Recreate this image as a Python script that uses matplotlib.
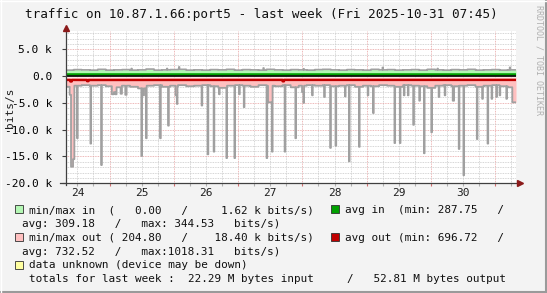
import matplotlib
matplotlib.use("Agg")
import matplotlib.pyplot as plt
from matplotlib.patches import Rectangle
from matplotlib.lines import Line2D
from matplotlib.ticker import MultipleLocator
import numpy as np

# ----- DATA -----
t_start = 24 + 7.75 / 24          # Fri 2025-10-24 07:45
t_end = t_start + 7
step = 1 / 96                      # 15 min

day_labels = ["24", "25", "26", "27", "28", "29", "30"]
ytick_vals = [5000, 0, -5000, -10000, -15000, -20000]
ytick_labels = ["5.0 k", "0.0", "-5.0 k", "-10.0 k", "-15.0 k", "-20.0 k"]

# max in, 3 h blocks (bits/s)
in_max_base = [1100, 1200, 1150, 1100, 1250, 1100, 1150, 1200, 1100, 1150, 1300, 1100, 1150, 1200,
               1250, 1100, 1150, 1100, 1200, 1150, 1250, 1100, 1200, 1150, 1100, 1250, 1150, 1100,
               1200, 1150, 1100, 1200, 1250, 1150, 1100, 1200, 1150, 1100, 1250, 1150, 1200, 1100,
               1150, 1200, 1100, 1250, 1150, 1100, 1200, 1150, 1250, 1100, 1150, 1200, 1100, 1150]
in_max_peak_t = [25.34, 25.90, 26.08, 27.40, 28.02, 29.25, 30.10, 31.23]
in_max_peak_v = [1400, 1400, 1700, 1500, 1350, 1600, 1400, 1620]

# max out (negative), 3 h blocks
out_base = [-2000, -1800, -1700, -1800, -1700, -1900, -2100, -1800, -2000, -2300, -1800, -1700, -2000, -1800,
            -1700, -1900, -1800, -1700, -1900, -2200, -1800, -1700, -1800, -2000, -1700, -1800, -1900, -1700,
            -2100, -1800, -1700, -1800, -1700, -1900, -1800, -1700, -2000, -1800, -1900, -1700, -1800, -2000,
            -1700, -1800, -1900, -2200, -1800, -1700, -1900, -1800, -1700, -2000, -1800, -1700, -1900, -2100]
# dips shown in the pink area
out_pink_t = [24.385, 24.396, 24.406, 24.417, 24.427, 24.438, 24.448, 25.044, 25.055, 25.065, 25.076,
              25.086, 25.097, 25.108, 25.173, 25.183, 25.251, 25.261, 25.521, 25.531, 25.795, 25.914,
              26.033, 26.044, 26.054, 26.531, 27.096, 27.464, 27.475, 27.485, 27.496, 27.506, 27.517,
              27.532, 28.003, 28.013, 28.024, 29.103, 30.347, 30.357, 30.720, 31.269, 31.279, 31.290,
              31.300, 31.311, 31.321]
out_pink_v = [-3500, -3500, -16900, -16900, -16900, -15500, -15500, -3400, -3400, -3400, -3000,
              -3000, -3400, -3400, -3300, -3300, -3500, -3500, -3600, -3600, -11600, -9250,
              -3600, -3600, -3600, -14600, -5800, -4900, -4900, -4900, -4900, -4900, -4900,
              -14100, -3000, -3000, -5000, -6900, -4600, -4600, -11750, -4900, -4900, -4900,
              -4900, -4900, -4900]
# spikes drawn only by the grey line
out_line_t = [24.499, 24.707, 24.878, 25.500, 25.578, 26.054, 26.433, 26.620, 26.713, 26.822, 26.946,
              27.024, 27.444, 27.734, 27.895, 28.154, 28.346, 28.439, 28.517, 28.662, 28.724, 28.890,
              29.020, 29.434, 29.517, 29.580, 29.642, 29.725, 29.828, 29.891, 30.015, 30.124, 30.217,
              30.435, 30.513, 30.803, 30.886, 30.953, 31.016, 31.078, 31.176]
out_line_v = [-11600, -12600, -16600, -14900, -11600, -5200, -5500, -14100, -3400, -15300, -15300,
              -3400, -15300, -14100, -11600, -3600, -3900, -13400, -13000, -3800, -15900, -13200,
              -3600, -12500, -12500, -3600, -3600, -9100, -4600, -14400, -10500, -3900, -3600,
              -13600, -18500, -4250, -12600, -4250, -3900, -3600, -4250]
out_min = -204.80

# averages, 6 h blocks
avg_in = [310, 305, 300, 315, 320, 305, 295, 310, 300, 315, 310, 305, 320, 300,
          310, 305, 315, 300, 310, 320, 305, 300, 310, 315, 305, 300, 310, 305]
avg_out = [-730, -740, -720, -735, -730, -725, -740, -730, -735, -720, -730, -745, -730, -725,
           -735, -730, -720, -740, -730, -735, -725, -730, -740, -730, -720, -735, -730, -725]
avg_out_peak_t = [24.396, 24.406, 24.655, 24.665, 27.70, 27.71]
avg_out_peak_v = [-1018, -1018, -960, -960, -990, -990]

legend_rows = [
    ("#B4F7B4", "min/max in  (   0.00   /     1.62 k bits/s)", "#00A000", "avg in  (min: 287.75   /"),
    (None, "avg: 309.18   /   max: 344.53   bits/s)", None, None),
    ("#FFC0C0", "min/max out ( 204.80   /    18.40 k bits/s)", "#C00000", "avg out (min: 696.72   /"),
    (None, "avg: 732.52   /   max:1018.31   bits/s)", None, None),
    ("#FFFFA0", "data unknown (device may be down)", None, None),
    (None, "totals for last week :  22.29 M bytes input     /   52.81 M bytes output", None, None),
]

# ----- BUILD SERIES -----
t = t_start + np.arange(673) * step
blk3 = np.clip(((t - t_start) * 8).astype(int), 0, 55)
blk6 = np.clip(((t - t_start) * 4).astype(int), 0, 27)

def idx(tt):
    return min(int(round((tt - t_start) / step)), len(t) - 1)

in_max = np.array(in_max_base, dtype=float)[blk3]
for tt, v in zip(in_max_peak_t, in_max_peak_v):
    in_max[idx(tt)] = v

out_fill = np.array(out_base, dtype=float)[blk3]
for tt, v in zip(out_pink_t, out_pink_v):
    out_fill[idx(tt)] = min(out_fill[idx(tt)], v)
out_line = out_fill.copy()
for tt, v in zip(out_line_t, out_line_v):
    out_line[idx(tt)] = min(out_line[idx(tt)], v)

avg_in_s = np.array(avg_in, dtype=float)[blk6]
avg_out_s = np.array(avg_out, dtype=float)[blk6]
for tt, v in zip(avg_out_peak_t, avg_out_peak_v):
    avg_out_s[idx(tt)] = v

# ----- FIGURE -----
W, H = 547, 293
mono = "DejaVu Sans Mono"
plt.rcParams["font.family"] = mono

fig = plt.figure(figsize=(W / 100, H / 100), dpi=100, facecolor="#F3F3F3")

def fx(px):
    return px / W

def fy(py):
    return 1 - py / H

left, right, top, bottom = 66, 516, 31, 183.3
ax = fig.add_axes([fx(left), fy(bottom), fx(right - left), (bottom - top) / H])
ax.set_facecolor("white")
ax.set_xlim(t_start, t_end)
ax.set_ylim(-20000, 8400)

# grid
ax.xaxis.set_major_locator(MultipleLocator(1))
ax.xaxis.set_minor_locator(MultipleLocator(0.25))
ax.yaxis.set_minor_locator(MultipleLocator(1000))
ax.set_yticks(ytick_vals, ytick_labels)
ax.set_xticklabels([])
ax.grid(which="minor", color="#C8C8C8", linestyle=(0, (1, 1)), linewidth=0.6, zorder=0)
ax.grid(which="major", color="#E8A0A0", linestyle=(0, (1, 1)), linewidth=0.6, zorder=0)
ax.set_axisbelow(True)
for s in ax.spines.values():
    s.set_visible(False)
ax.tick_params(axis="y", which="major", length=3, width=0.8, color="#404040", pad=7, labelsize=8)
ax.tick_params(axis="y", which="minor", length=0)
ax.tick_params(axis="x", which="major", length=2, width=0.8, color="#D07070", direction="out")
ax.tick_params(axis="x", which="minor", length=2, width=0.8, color="#B0B0B0", direction="out")

# series
ax.fill_between(t, 0, in_max, step="mid", color="#B4F7B4", linewidth=0, zorder=2)
ax.plot(t, in_max, drawstyle="steps-mid", color="#A0A0A0", linewidth=1.2, zorder=3)
ax.fill_between(t, out_min, out_fill, step="mid", color="#FFC0C0", linewidth=0, zorder=2)
ax.plot(t, out_line, drawstyle="steps-mid", color="#A0A0A0", linewidth=1.3, zorder=3)
ax.plot(t, avg_in_s, drawstyle="steps-mid", color="#00A000", linewidth=1.7, zorder=4)
ax.plot(t, avg_out_s, drawstyle="steps-mid", color="#C00000", linewidth=1.7, zorder=4)
ax.axhline(0, color="black", linewidth=1.2, zorder=5)

# axis lines with arrows
ax.plot([-6 / 450, 1 + 3 / 450], [0, 0], transform=ax.transAxes, color="#404040",
        linewidth=0.9, clip_on=False, zorder=6)
ax.plot([0, 0], [-2 / 152, 1 + 2 / 152], transform=ax.transAxes, color="#404040",
        linewidth=0.9, clip_on=False, zorder=6)
ax.plot([1 + 4 / 450], [0], marker=">", markersize=4, color="#8B1A1A", transform=ax.transAxes,
        clip_on=False, zorder=7)
ax.plot([0], [1 + 3 / 152], marker="^", markersize=4, color="#8B1A1A", transform=ax.transAxes,
        clip_on=False, zorder=7)

# day labels at noon
for i, lab in enumerate(day_labels):
    ax.text(int(lab) + 0.5, -0.083, lab, transform=ax.get_xaxis_transform(), ha="center",
            va="baseline", fontsize=8, color="#202020")

# texts
fig.text(fx(25), fy(18.3), "traffic on 10.87.1.66:port5 - last week (Fri 2025-10-31 07:45)",
         ha="left", va="baseline", fontsize=9.1, color="#101010")
fig.text(fx(10), fy(108), "bits/s", rotation=90, ha="center", va="center", fontsize=8, color="#202020")
fig.text(fx(539.5), fy(60), "RRDTOOL / TOBI OETIKER", rotation=270, ha="center", va="center",
         fontsize=6, color="#B0B0B0")

# legend
for i, (c1, s1, c2, s2) in enumerate(legend_rows):
    base = 213.3 + 13.8 * i
    if c1 is not None:
        fig.add_artist(Rectangle((fx(15), fy(base)), 8 / W, 8 / H, facecolor=c1,
                                 edgecolor="#303030", linewidth=0.6))
        fig.text(fx(29), fy(base), s1, ha="left", va="baseline", fontsize=7.9, color="#101010")
    else:
        x0 = 29 if s1.startswith("totals") else 22
        fig.text(fx(x0), fy(base), s1, ha="left", va="baseline", fontsize=7.9, color="#101010")
    if c2 is not None:
        fig.add_artist(Rectangle((fx(331), fy(base)), 8 / W, 8 / H, facecolor=c2,
                                 edgecolor="#303030", linewidth=0.6))
        fig.text(fx(345), fy(base), s2, ha="left", va="baseline", fontsize=7.9, color="#101010")

# frame
fig.add_artist(Line2D([fx(546), fx(546)], [0, 1], color="#9A9A9A", linewidth=1.5))
fig.add_artist(Line2D([0, 1], [fy(292), fy(292)], color="#9A9A9A", linewidth=1.5))
fig.add_artist(Line2D([fx(0.5), fx(0.5)], [0, 1], color="#FFFFFF", linewidth=1))
fig.add_artist(Line2D([0, 1], [fy(0.5), fy(0.5)], color="#FFFFFF", linewidth=1))

fig.savefig("out.png", dpi=100, facecolor=fig.get_facecolor())
